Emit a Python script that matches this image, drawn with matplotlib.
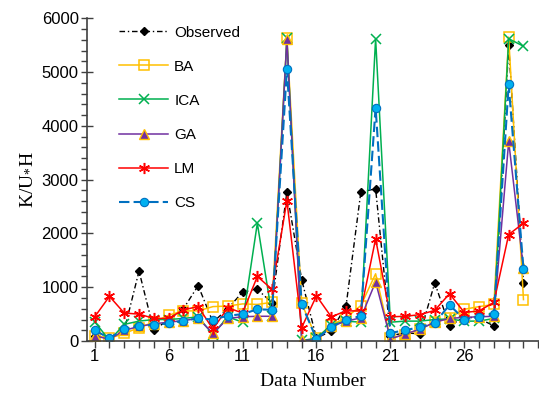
import matplotlib
matplotlib.use("Agg")
import matplotlib.pyplot as plt
from matplotlib.ticker import MultipleLocator, FixedLocator

plt.rcParams["mathtext.fontset"] = "custom"
plt.rcParams["mathtext.rm"] = "Liberation Serif"
plt.rcParams["mathtext.it"] = "Liberation Serif:italic"

# data
data_no = list(range(1, 31))
observed = [100, 50, 200, 1300, 200, 400, 600, 1030, 350, 600,
            910, 960, 710, 2770, 1140, 50, 190, 650, 2770, 2830,
            100, 150, 135, 1080, 280, 450, 420, 280, 5500, 1070]
ba = [100, 50, 140, 250, 350, 480, 560, 560, 640, 650,
      690, 680, 720, 5630, 700, 50, 300, 430, 660, 1250,
      50, 120, 220, 350, 430, 590, 640, 680, 5650, 770]
ica = [360, 10, 310, 370, 400, 400, 420, 450, 120, 450,
       350, 2190, 460, 5630, 10, 50, 300, 370, 350, 5620,
       350, 370, 370, 400, 410, 370, 370, 420, 5620, 5480]
ga = [100, 30, 200, 270, 320, 350, 380, 420, 140, 420,
      450, 460, 460, 5620, 10, 20, 270, 370, 430, 1100,
      40, 130, 220, 350, 420, 440, 450, 460, 3710, 1350]
lm = [450, 830, 520, 500, 420, 420, 580, 640, 220, 620,
      520, 1200, 960, 2610, 250, 840, 450, 560, 560, 1900,
      450, 460, 490, 570, 880, 530, 560, 720, 1980, 2190]
cs = [200, 50, 230, 280, 300, 330, 380, 420, 400, 470,
      500, 590, 580, 5050, 680, 40, 260, 390, 470, 4340,
      150, 200, 260, 340, 670, 400, 450, 500, 4770, 1340]

fig = plt.figure(figsize=(5.39, 3.97), dpi=100)
ax = fig.add_axes([0.1614, 0.141, 0.8386, 0.813])

ax.plot(data_no, observed, color="black", lw=1.0, dashes=[4, 2, 1, 2],
        marker="D", ms=4, mfc="black", mec="black", label="Observed")
ax.plot(data_no, ba, color="#FFC000", lw=1.1, marker="s", ms=6.5,
        mfc="none", mec="#FFC000", mew=1.1, label="BA")
ax.plot(data_no, ica, color="#00B050", lw=1.1, marker="x", ms=6.5,
        mew=1.1, label="ICA")
ax.plot(data_no, ga, color="#7030A0", lw=1.1, marker="^", ms=6.5,
        mfc="#7030A0", mec="#FFC000", mew=1.0, label="GA")
ax.plot(data_no, lm, color="#FF0000", lw=1.1, marker=(6, 2, 0), ms=8,
        mew=1.1, label="LM")
ax.plot(data_no, cs, color="#0070C0", lw=1.5, dashes=[5, 2],
        marker="o", ms=6, mfc="#00B0F0", mec="#0070C0", mew=0.8, label="CS")

ax.set_xlim(0.48, 31.05)
ax.set_ylim(0, 6000)
ax.xaxis.set_major_locator(FixedLocator([1, 6, 11, 16, 21, 26]))
ax.xaxis.set_minor_locator(MultipleLocator(1))
ax.yaxis.set_major_locator(MultipleLocator(1000))
ax.yaxis.set_minor_locator(MultipleLocator(200))

for s in ["top", "right"]:
    ax.spines[s].set_visible(False)
for s in ["left", "bottom"]:
    ax.spines[s].set_color("#404040")
    ax.spines[s].set_linewidth(1.2)

ax.tick_params(axis="y", which="major", direction="inout", length=8,
               width=1, color="#404040", labelsize=12, pad=2)
ax.tick_params(axis="y", which="minor", direction="out", length=4,
               width=1, color="#404040")
ax.tick_params(axis="x", which="both", direction="out", length=5,
               width=1, color="#404040", labelsize=12, pad=1)
for lab in ax.get_xticklabels() + ax.get_yticklabels():
    lab.set_family("Liberation Sans")

ax.set_xlabel("Data Number", family="Liberation Serif", fontsize=14, labelpad=6)
ax.set_ylabel(r"$\mathrm{K/U_{*}H}$", fontsize=14, labelpad=5)

ax.legend(loc="upper left", bbox_to_anchor=(0.207, 0.955),
          bbox_transform=fig.transFigure, frameon=False, borderpad=0,
          handlelength=3.2, handletextpad=0.4, labelspacing=1.32,
          numpoints=1, prop={"family": "Liberation Sans", "size": 11})

fig.savefig("out.png", dpi=100)
